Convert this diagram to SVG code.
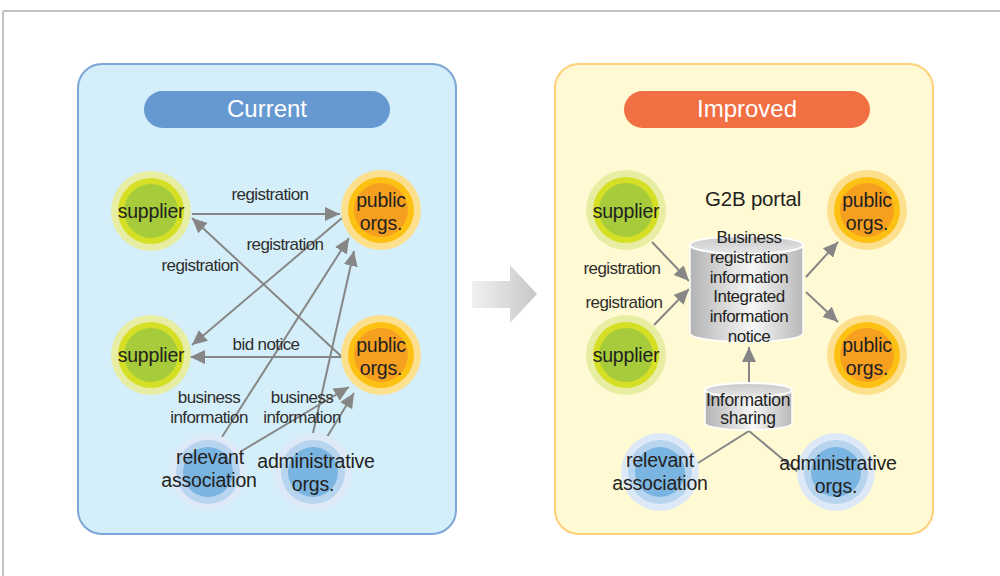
<svg xmlns="http://www.w3.org/2000/svg" width="1000" height="576" viewBox="0 0 1000 576">
<style>
text{font-family:"Liberation Sans",Arial,sans-serif;fill:#231f20}
.nl{font-size:19.5px;text-anchor:middle;letter-spacing:-0.2px}
.lb{font-size:17px;text-anchor:middle;fill:#2e2e2e;letter-spacing:-0.6px}
.cy{font-size:17px;text-anchor:middle;letter-spacing:-0.5px}
.ttl{font-size:24px;text-anchor:middle;fill:#fff}
.cn{stroke:#868686;stroke-width:2;fill:none}
.ar{marker-end:url(#ah)}
</style>
<defs>
<marker id="ah" markerUnits="userSpaceOnUse" markerWidth="16" markerHeight="14" refX="15" refY="7" orient="auto">
<path d="M0,0 L15,7 L0,14 z" fill="#868686"/>
</marker>
<linearGradient id="bigArrow" x1="0" y1="0" x2="1" y2="0">
<stop offset="0" stop-color="#f1f1f2"/>
<stop offset="1" stop-color="#c6c7c9"/>
</linearGradient>
<linearGradient id="cylBody" x1="0" y1="0" x2="1" y2="0">
<stop offset="0" stop-color="#b3b3b5"/>
<stop offset="0.55" stop-color="#f7f7f7"/>
<stop offset="1" stop-color="#b8b8ba"/>
</linearGradient>
<linearGradient id="cylTop" x1="0" y1="0" x2="0" y2="1">
<stop offset="0" stop-color="#c9c9cb"/>
<stop offset="1" stop-color="#e6e6e7"/>
</linearGradient>
</defs>

<g id="frame">
<line x1="3" y1="11" x2="1000" y2="11" stroke="#c2c2c2" stroke-width="2"/>
<line x1="3" y1="11" x2="3" y2="576" stroke="#c2c2c2" stroke-width="2"/>
</g>

<g id="panel-current">
<rect x="78" y="64" width="378" height="470" rx="24" fill="#d4eefa" stroke="#7da6d8" stroke-width="2"/>
<rect x="144" y="91" width="246" height="37" rx="18.5" fill="#6699d1"/>
<text class="ttl" x="267" y="117">Current</text>
</g>

<g id="panel-improved">
<rect x="555" y="64" width="378" height="470" rx="24" fill="#fffad3" stroke="#fdcf7b" stroke-width="2"/>
<rect x="624" y="91" width="246" height="37" rx="18.5" fill="#f26f44"/>
<text class="ttl" x="747" y="117">Improved</text>
</g>

<g id="transition-arrow">
<path d="M472,281 L510,281 L510,265 L537,294 L510,323 L510,308 L472,308 Z" fill="url(#bigArrow)"/>
</g>

<g id="connectors">
<line class="cn ar" x1="192" y1="214" x2="340" y2="214"/>
<line class="cn ar" x1="342" y1="357" x2="192" y2="218"/>
<line class="cn ar" x1="342" y1="218" x2="192" y2="345"/>
<line class="cn ar" x1="342" y1="357" x2="190" y2="357"/>
<line class="cn ar" x1="222" y1="437" x2="349" y2="238"/>
<line class="cn ar" x1="313" y1="433" x2="354" y2="251"/>
<line class="cn ar" x1="240" y1="452" x2="349" y2="387"/>
<line class="cn ar" x1="327" y1="437" x2="354" y2="393"/>
<line class="cn ar" x1="652" y1="242" x2="689" y2="281"/>
<line class="cn ar" x1="654" y1="325" x2="689" y2="289"/>
<line class="cn ar" x1="806" y1="277" x2="838" y2="242"/>
<line class="cn ar" x1="806" y1="292" x2="838" y2="322"/>
<line class="cn ar" x1="749" y1="382" x2="749" y2="347"/>
<polyline class="cn" points="698,463 749,431 798,472"/>
</g>

<g id="labels-current">
<text class="lb" x="270" y="200">registration</text>
<text class="lb" x="285" y="250">registration</text>
<text class="lb" x="200" y="271">registration</text>
<text class="lb" x="266" y="350">bid notice</text>
<text class="lb" x="209" y="403">business</text>
<text class="lb" x="209" y="423">information</text>
<text class="lb" x="302" y="403">business</text>
<text class="lb" x="302" y="423">information</text>
</g>

<g id="labels-improved">
<text class="lb" x="622" y="274">registration</text>
<text class="lb" x="624" y="308">registration</text>
</g>

<g id="cur-supplier-1">
<circle cx="151" cy="211" r="40" fill="#e7eda2"/>
<circle cx="151" cy="211" r="33" fill="#d5df26"/>
<circle cx="151" cy="211" r="27" fill="#a7cc3b"/>
<text class="nl" x="151" y="218">supplier</text>
</g>
<g id="cur-public-1">
<circle cx="381" cy="210" r="40" fill="#fde08d"/>
<circle cx="381" cy="210" r="33" fill="#fdc114"/>
<circle cx="381" cy="210" r="27" fill="#f7a020"/>
<text class="nl" x="381" y="207">public</text>
<text class="nl" x="381" y="230">orgs.</text>
</g>
<g id="cur-supplier-2">
<circle cx="151" cy="355" r="40" fill="#e7eda2"/>
<circle cx="151" cy="355" r="33" fill="#d5df26"/>
<circle cx="151" cy="355" r="27" fill="#a7cc3b"/>
<text class="nl" x="151" y="362">supplier</text>
</g>
<g id="cur-public-2">
<circle cx="381" cy="355" r="40" fill="#fde08d"/>
<circle cx="381" cy="355" r="33" fill="#fdc114"/>
<circle cx="381" cy="355" r="27" fill="#f7a020"/>
<text class="nl" x="381" y="352">public</text>
<text class="nl" x="381" y="375">orgs.</text>
</g>
<g id="cur-relevant">
<circle cx="208" cy="472" r="38" fill="#dde9f6"/>
<circle cx="208" cy="472" r="32" fill="#b8d5f0"/>
<circle cx="208" cy="472" r="25" fill="#7ab4e1"/>
<text class="nl" x="210" y="464">relevant</text>
<text class="nl" x="209" y="487">association</text>
</g>
<g id="cur-admin">
<circle cx="313" cy="472" r="39" fill="#dde9f6"/>
<circle cx="313" cy="472" r="32" fill="#b8d5f0"/>
<circle cx="313" cy="472" r="25" fill="#7ab4e1"/>
<text class="nl" x="316" y="468">administrative</text>
<text class="nl" x="313" y="491">orgs.</text>
</g>

<g id="imp-supplier-1">
<circle cx="626" cy="210" r="40" fill="#e7eda2"/>
<circle cx="626" cy="210" r="33" fill="#d5df26"/>
<circle cx="626" cy="210" r="27" fill="#a7cc3b"/>
<text class="nl" x="626" y="218">supplier</text>
</g>
<g id="imp-supplier-2">
<circle cx="626" cy="355" r="40" fill="#e7eda2"/>
<circle cx="626" cy="355" r="33" fill="#d5df26"/>
<circle cx="626" cy="355" r="27" fill="#a7cc3b"/>
<text class="nl" x="626" y="362">supplier</text>
</g>
<g id="imp-public-1">
<circle cx="867" cy="210" r="40" fill="#fde08d"/>
<circle cx="867" cy="210" r="33" fill="#fdc114"/>
<circle cx="867" cy="210" r="27" fill="#f7a020"/>
<text class="nl" x="867" y="207">public</text>
<text class="nl" x="867" y="230">orgs.</text>
</g>
<g id="imp-public-2">
<circle cx="867" cy="355" r="40" fill="#fde08d"/>
<circle cx="867" cy="355" r="33" fill="#fdc114"/>
<circle cx="867" cy="355" r="27" fill="#f7a020"/>
<text class="nl" x="867" y="352">public</text>
<text class="nl" x="867" y="375">orgs.</text>
</g>
<g id="imp-relevant">
<circle cx="660" cy="472" r="39" fill="#dde9f6"/>
<circle cx="660" cy="472" r="32" fill="#b8d5f0"/>
<circle cx="660" cy="472" r="25" fill="#7ab4e1"/>
<text class="nl" x="660" y="467">relevant</text>
<text class="nl" x="660" y="490">association</text>
</g>
<g id="imp-admin">
<circle cx="836" cy="472" r="39" fill="#dde9f6"/>
<circle cx="836" cy="472" r="32" fill="#b8d5f0"/>
<circle cx="836" cy="472" r="25" fill="#7ab4e1"/>
<text class="nl" x="838" y="470">administrative</text>
<text class="nl" x="836" y="493">orgs.</text>
</g>

<g id="g2b-portal">
<text x="753" y="206" style="font-size:20.5px;text-anchor:middle;letter-spacing:-0.2px">G2B portal</text>
<path d="M690,245 L690,333 A56.5,9 0 0 0 803,333 L803,245 Z" fill="url(#cylBody)" stroke="#fff" stroke-width="1.5"/>
<ellipse cx="746.5" cy="245" rx="56.5" ry="9" fill="url(#cylTop)" stroke="#fff" stroke-width="2"/>
<text class="cy" x="749" y="243">Business</text>
<text class="cy" x="749" y="263">registration</text>
<text class="cy" x="749" y="283">information</text>
<text class="cy" x="749" y="302">Integrated</text>
<text class="cy" x="749" y="322">information</text>
<text class="cy" x="749" y="342">notice</text>
</g>

<g id="info-sharing">
<path d="M705,390 L705,423 A43.5,7 0 0 0 792,423 L792,390 Z" fill="url(#cylBody)" stroke="#fff" stroke-width="1.5"/>
<ellipse cx="748.5" cy="390" rx="43.5" ry="7" fill="url(#cylTop)" stroke="#fff" stroke-width="2"/>
<text x="748" y="406" style="font-size:17.5px;text-anchor:middle;letter-spacing:-0.3px">Information</text>
<text x="748" y="424" style="font-size:17.5px;text-anchor:middle;letter-spacing:-0.3px">sharing</text>
</g>
</svg>
